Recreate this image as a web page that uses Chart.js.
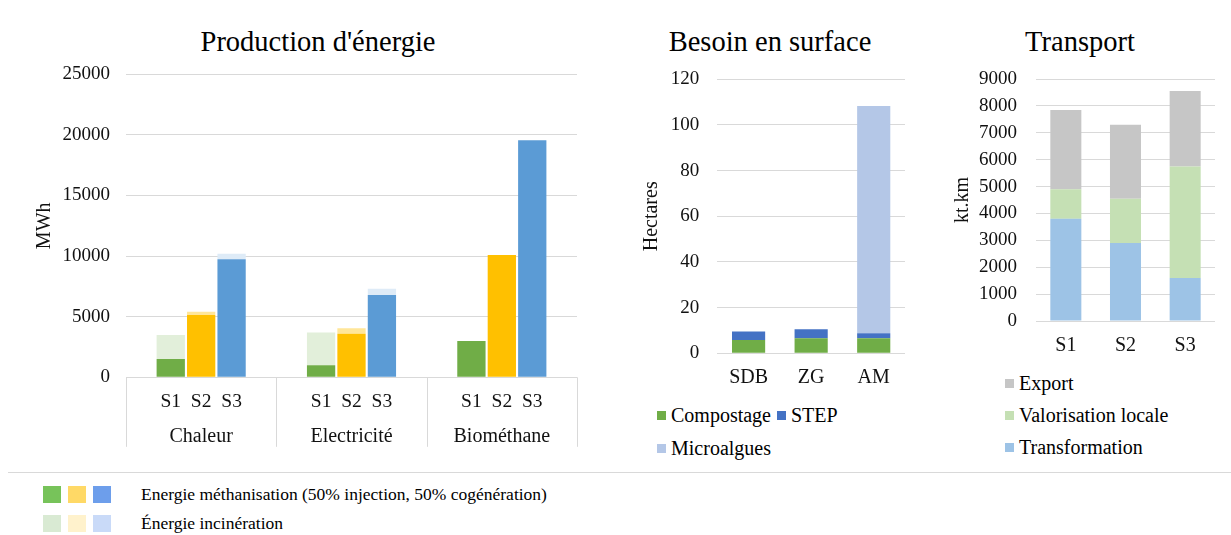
<!DOCTYPE html>
<html lang="fr">
<head>
<meta charset="utf-8">
<title>Production d'énergie, besoin en surface, transport</title>
<script src="https://cdn.jsdelivr.net/npm/chart.js@4.4.0/dist/chart.umd.min.js"></script>
<style>
  body { margin: 0; background: #fff; font-family: "Liberation Serif", "Times New Roman", serif; color: #000; }
  #page { position: relative; width: 1231px; height: 535px; overflow: hidden; }
  canvas { position: absolute; top: 0; }
  .title { position: absolute; top: 26px; width: 320px; height: 32px; line-height: 32px; text-align: center; font-size: 28.5px; white-space: nowrap; }
  .leg { position: absolute; display: flex; align-items: center; height: 24px; font-size: 20px; white-space: nowrap; }
  .leg i { display: inline-block; width: 9px; height: 9px; margin-right: 5px; }
  .bleg { position: absolute; display: flex; align-items: center; height: 18px; font-size: 17.5px; white-space: nowrap; }
  .bleg i { display: inline-block; width: 18px; height: 17px; margin-right: 7px; }
  #sep { position: absolute; left: 8px; top: 472px; width: 1223px; height: 1px; background: #d9d9d9; }
</style>
</head>
<body>
<div id="page">
  <div class="title" style="left:158px">Production d'énergie</div>
  <div class="title" style="left:610px">Besoin en surface</div>
  <div class="title" style="left:920px">Transport</div>
  <canvas id="energie" width="590" height="470" style="left:0px"></canvas>
  <canvas id="surface" width="300" height="395" style="left:620px"></canvas>
  <canvas id="transport" width="301" height="360" style="left:930px"></canvas>
  <div id="legSurface"></div>
  <div id="legTransport"></div>
  <div id="sep"></div>
  <div id="legEnergie"></div>
</div>
<script>
// Production d'énergie (MWh)
const energyCategories = ["Chaleur", "Electricité", "Biométhane"];
const scenarios = ["S1", "S2", "S3"];
const methaS1 = [1500, 1000, 3000];
const methaS2 = [5150, 3600, 10100];
const methaS3 = [9750, 6800, 19550];
const incinS1 = [2000, 2700, 0];
const incinS2 = [250, 450, 0];
const incinS3 = [450, 500, 0];
const energyTicks = [0, 5000, 10000, 15000, 20000, 25000];

// Besoin en surface (hectares)
const surfaceSites = ["SDB", "ZG", "AM"];
const compostage = [5.8, 6.6, 6.6];
const step = [3.7, 3.9, 2.2];
const microalgues = [0, 0, 99.5];
const surfaceTicks = [0, 20, 40, 60, 80, 100, 120];

// Transport (kt.km)
const transportScenarios = ["S1", "S2", "S3"];
const transformation = [3800, 2900, 1600];
const valorisationLocale = [1100, 1650, 4150];
const exportKm = [2950, 2750, 2800];
const transportTicks = [0, 1000, 2000, 3000, 4000, 5000, 6000, 7000, 8000, 9000];

const FONT = '"Liberation Serif", "Times New Roman", serif';
Chart.defaults.font.family = FONT;
Chart.defaults.color = "#111";

const gridGrey = "#d9d9d9";
const methaColors = ["#70ad47", "#ffc000", "#5b9bd5"];
const incinColors = ["#e2efda", "#ffe699", "#deebf7"];

function yAxis(ticks, title, width, pad) {
    return {
        stacked: true,
        min: ticks[0],
        max: ticks[ticks.length - 1],
        afterBuildTicks: (s) => { s.ticks = ticks.map(v => ({ value: v })); },
        grid: { color: gridGrey, drawTicks: false },
        border: { display: false },
        ticks: { padding: pad, font: { size: 19 }, color: "#111", callback: (v) => String(v) },
        title: { display: true, text: title, font: { size: 20 }, color: "#111" },
        afterFit: (s) => { s.width = width; }
    };
}

function xAxis(height, pad, size) {
    return {
        stacked: true,
        grid: { display: false, drawTicks: false },
        border: { display: false },
        ticks: { padding: pad, font: { size: size }, color: "#111" },
        afterFit: (s) => {
            s.height = height;
            s.paddingLeft = 0;
            s.paddingRight = 0;
        }
    };
}

const commonPlugins = { legend: { display: false }, tooltip: { enabled: false }, title: { display: false } };

// ---- left chart
const energyDatasets = [];
const methaRows = [methaS1, methaS2, methaS3];
const incinRows = [incinS1, incinS2, incinS3];
scenarios.forEach((s, k) => {
    energyDatasets.push({ label: "Energie méthanisation " + s, data: methaRows[k], backgroundColor: methaColors[k], stack: s, borderWidth: 0 });
    energyDatasets.push({ label: "Énergie incinération " + s, data: incinRows[k], backgroundColor: incinColors[k], stack: s, borderWidth: 0 });
});

const groupLabels = {
    id: "groupLabels",
    afterDraw(chart) {
        const { ctx, chartArea, scales } = chart;
        const x = scales.x;
        const half = (x.getPixelForValue(1) - x.getPixelForValue(0)) / 2;
        ctx.save();
        ctx.strokeStyle = gridGrey;
        ctx.lineWidth = 1;
        for (let i = 0; i <= energyCategories.length; i++) {
            const px = i < energyCategories.length ? x.getPixelForValue(i) - half : x.getPixelForValue(i - 1) + half;
            ctx.beginPath();
            ctx.moveTo(Math.round(px) + 0.5, chartArea.bottom);
            ctx.lineTo(Math.round(px) + 0.5, chartArea.bottom + 69.5);
            ctx.stroke();
        }
        ctx.fillStyle = "#111";
        ctx.font = "19.5px " + FONT;
        ctx.textAlign = "center";
        ctx.textBaseline = "middle";
        scenarios.forEach((s, k) => {
            chart.getDatasetMeta(k * 2).data.forEach(bar => ctx.fillText(s, bar.x, chartArea.bottom + 25));
        });
        ctx.restore();
    }
};

new Chart(document.getElementById("energie"), {
    type: "bar",
    data: { labels: energyCategories, datasets: energyDatasets },
    options: {
        responsive: false,
        animation: false,
        layout: { padding: { left: 29, right: 13, top: 74.3, bottom: 0 } },
        datasets: { bar: { categoryPercentage: 0.607, barPercentage: 0.93 } },
        scales: { x: xAxis(92.7, 47, 20), y: yAxis(energyTicks, "MWh", 97, 16) },
        plugins: commonPlugins
    },
    plugins: [groupLabels]
});

// ---- middle chart
const surfaceSeries = [
    { label: "Compostage", data: compostage, color: "#70ad47" },
    { label: "STEP", data: step, color: "#4472c4" },
    { label: "Microalgues", data: microalgues, color: "#b4c7e7" }
];
new Chart(document.getElementById("surface"), {
    type: "bar",
    data: {
        labels: surfaceSites,
        datasets: surfaceSeries.map(s => ({ label: s.label, data: s.data, backgroundColor: s.color, borderWidth: 0 }))
    },
    options: {
        responsive: false,
        animation: false,
        layout: { padding: { left: 16, right: 15, top: 79.3, bottom: 0 } },
        datasets: { bar: { categoryPercentage: 1, barPercentage: 0.53 } },
        scales: { x: xAxis(41.7, 12, 20), y: yAxis(surfaceTicks, "Hectares", 81.3, 18) },
        plugins: commonPlugins
    }
});

// ---- right chart
const transportSeries = [
    { label: "Transformation", data: transformation, color: "#9dc3e6" },
    { label: "Valorisation locale", data: valorisationLocale, color: "#c5e0b4" },
    { label: "Export", data: exportKm, color: "#c6c6c6" }
];
new Chart(document.getElementById("transport"), {
    type: "bar",
    data: {
        labels: transportScenarios,
        datasets: transportSeries.map(s => ({ label: s.label, data: s.data, backgroundColor: s.color, borderWidth: 0 }))
    },
    options: {
        responsive: false,
        animation: false,
        layout: { padding: { left: 17, right: 16, top: 79, bottom: 0 } },
        datasets: { bar: { categoryPercentage: 1, barPercentage: 0.52 } },
        scales: { x: xAxis(39, 12.3, 20), y: yAxis(transportTicks, "kt.km", 89, 19) },
        plugins: commonPlugins
    }
});

// ---- legends
function legendRow(parent, cls, left, centerY, boxes, text) {
    const row = document.createElement("div");
    row.className = cls;
    row.style.left = left + "px";
    row.style.top = (centerY - (cls === "leg" ? 12 : 9)) + "px";
    boxes.forEach(c => {
        const b = document.createElement("i");
        b.style.background = c;
        row.appendChild(b);
    });
    const span = document.createElement("span");
    span.textContent = text;
    row.appendChild(span);
    parent.appendChild(row);
    return row;
}

const legS = document.getElementById("legSurface");
legendRow(legS, "leg", 657, 415, [surfaceSeries[0].color], surfaceSeries[0].label);
legendRow(legS, "leg", 777, 415, [surfaceSeries[1].color], surfaceSeries[1].label);
legendRow(legS, "leg", 657, 448, [surfaceSeries[2].color], surfaceSeries[2].label);

const legT = document.getElementById("legTransport");
[2, 1, 0].forEach((k, r) => {
    legendRow(legT, "leg", 1005, 383 + r * 32, [transportSeries[k].color], transportSeries[k].label);
});

const legE = document.getElementById("legEnergie");
const r1 = legendRow(legE, "bleg", 43, 494, ["#77c35a", "#ffd966", "#6d9eeb"], "Energie méthanisation (50% injection, 50% cogénération)");
const r2 = legendRow(legE, "bleg", 43, 523, ["#d9ead3", "#fff2cc", "#c9daf8"], "Énergie incinération");
[r1, r2].forEach(r => { r.querySelector("span").style.marginLeft = "23px"; });
</script>
</body>
</html>
